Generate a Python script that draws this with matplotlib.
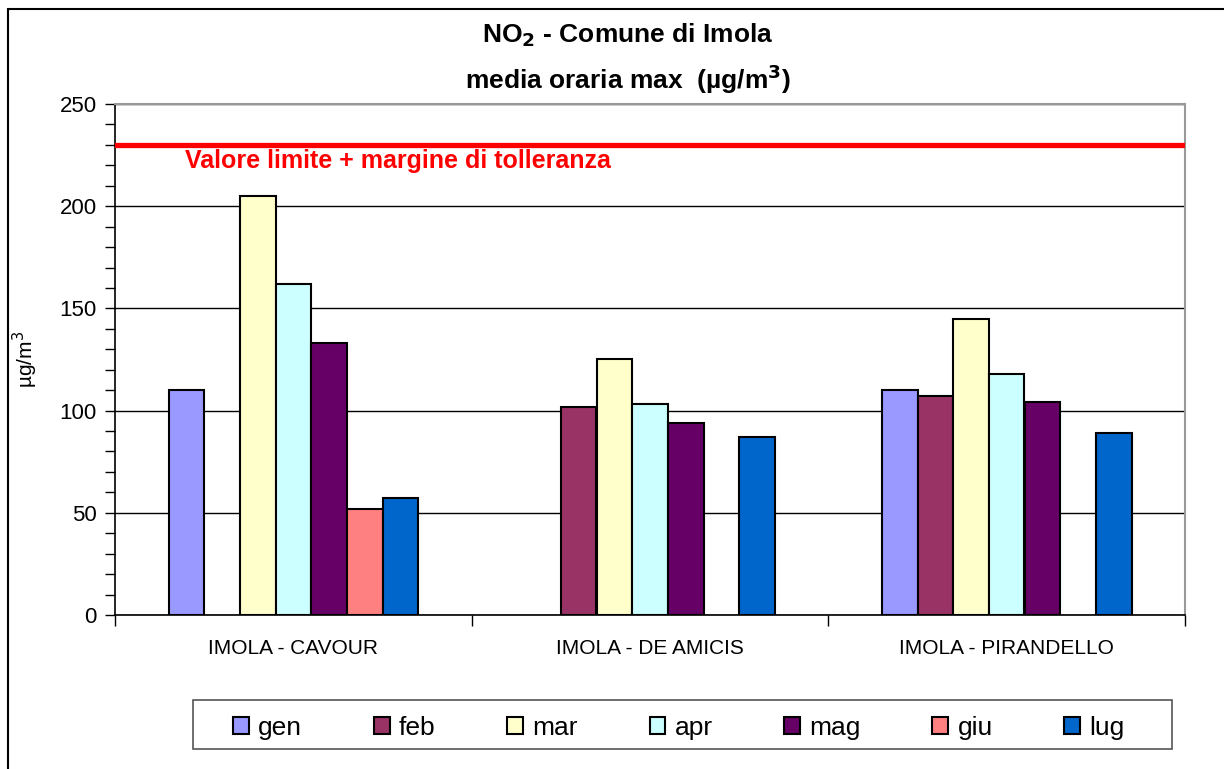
import numpy as np
import matplotlib.pyplot as plt
from matplotlib.patches import Rectangle

plt.rcParams['font.family'] = ['Liberation Sans', 'DejaVu Sans']

stazioni = ['IMOLA - CAVOUR', 'IMOLA - DE AMICIS', 'IMOLA - PIRANDELLO']
mesi = ['gen', 'feb', 'mar', 'apr', 'mag', 'giu', 'lug']
colori = ['#9999FF', '#993366', '#FFFFCC', '#CCFFFF', '#660066', '#FF8080', '#0066CC']

# valori per mese (una voce per stazione), nan = dato mancante
gen = [110, np.nan, 110]
feb = [np.nan, 102, 107]
mar = [205, 125, 145]
apr = [162, 103, 118]
mag = [133, 94, 104]
giu = [52, np.nan, np.nan]
lug = [57, 87, 89]
valori = [gen, feb, mar, apr, mag, giu, lug]

limite = 230

fig = plt.figure(figsize=(12.24, 7.69), dpi=100)
ax = fig.add_axes([115/1224, 1 - 615/769, 1070/1224, 511/769])

x = np.arange(len(stazioni))
w = 0.1
for i, (m, v, c) in enumerate(zip(mesi, valori, colori)):
    ax.bar(x + (i - 3) * w, v, width=w, color=c, edgecolor='black', linewidth=1.5, label=m, zorder=3)

ax.axhline(limite, color='red', linewidth=3.8, zorder=4)
ax.text(70/1070, limite - 8, 'Valore limite + margine di tolleranza', color='red',
        fontsize=18, fontweight='bold', va='center', ha='left',
        transform=ax.get_yaxis_transform())

ax.set_xlim(-0.5, 2.5)
ax.set_ylim(0, 250)
ax.set_yticks(np.arange(0, 251, 50))
ax.set_yticks(np.arange(0, 251, 10), minor=True)
ax.tick_params(axis='y', which='both', direction='out', length=7, width=1, labelsize=16, pad=6)
ax.yaxis.grid(True, which='major', color='black', linewidth=1, zorder=0)
ax.set_axisbelow(True)

ax.set_xticks(x)
ax.set_xticklabels(stazioni)
ax.set_xticks([-0.5, 0.5, 1.5, 2.5], minor=True)
ax.tick_params(axis='x', which='major', length=0, labelsize=15, pad=17)
ax.tick_params(axis='x', which='minor', direction='out', length=8, width=1)

for s in ['top', 'right']:
    ax.spines[s].set_color('#999999')
    ax.spines[s].set_linewidth(1.5)
ax.spines['left'].set_linewidth(1.2)
ax.spines['bottom'].set_linewidth(1.2)

ax.set_ylabel('µg/m$^3$', fontsize=15)
ax.yaxis.set_label_coords(-(115 - 40) / 1070, 0.5)

fig.text(628/1224, 1 - 35/769, 'NO$_\\mathbf{2}$ - Comune di Imola', ha='center', va='center',
         fontsize=19, fontweight='bold')
fig.text(628/1224, 1 - 79/769, 'media oraria max  (µg/m$^\\mathbf{3}$)', ha='center', va='center',
         fontsize=19, fontweight='bold')

# riquadro legenda
fig.patches.append(Rectangle((193/1224, 1 - 749/769), 979/1224, 49/769, transform=fig.transFigure,
                             fill=False, edgecolor='#555555', linewidth=1.2))
leg = fig.legend(loc='lower left', ncol=7, mode='expand',
                 bbox_to_anchor=(224/1224, 1 - 749/769, 910/1224, 49/769),
                 fontsize=19, frameon=False,
                 handlelength=0.6, handleheight=0.6, handletextpad=0.35,
                 borderaxespad=0, borderpad=0.35)

fig.patches.append(Rectangle((8/1224, -0.1), 2, 1.1 - 9/769, transform=fig.transFigure,
                             fill=False, edgecolor='black', linewidth=1.5))

fig.savefig('out.png', dpi=100)
